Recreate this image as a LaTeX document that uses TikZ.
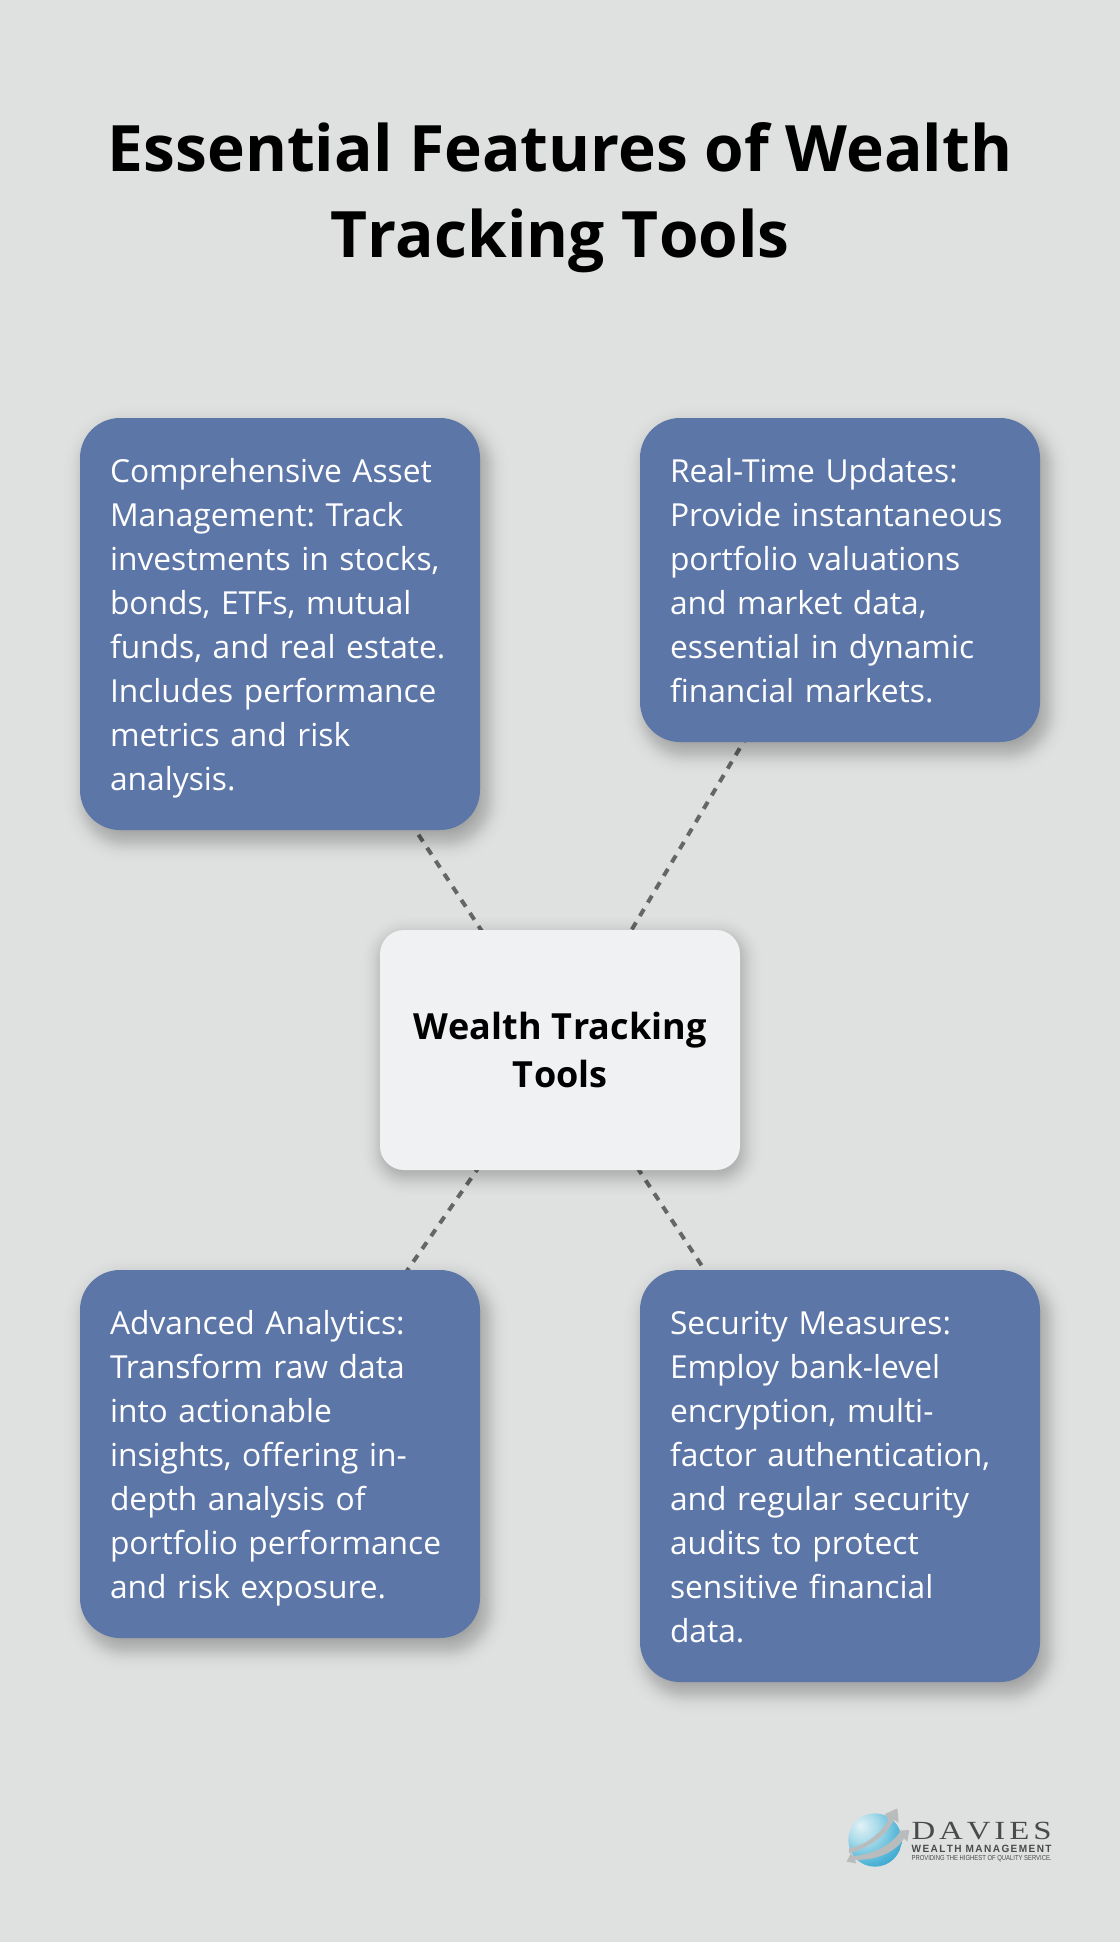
\documentclass[tikz,border=0pt]{standalone}
\usepackage{fontspec}
\usepackage{graphicx}
\setmainfont{Open Sans}
\newfontfamily\logoserif{Liberation Serif}
\newfontfamily\logosans{Liberation Sans}
\usetikzlibrary{calc,backgrounds,shadings}
\definecolor{pagebg}{HTML}{DFE1E0}
\definecolor{boxblue}{HTML}{5D76A8}
\definecolor{hubfill}{HTML}{F0F1F3}
\definecolor{linkgrey}{HTML}{666666}
\definecolor{logotext}{HTML}{4A4A4A}
\definecolor{swoosh}{HTML}{B9BCBD}
\definecolor{globeA}{HTML}{E2F2F6}
\definecolor{globeB}{HTML}{ABDCEA}
\definecolor{globeC}{HTML}{4FB4D7}
\definecolor{globeD}{HTML}{1F88B6}
\pgfdeclareradialshading{globeshade}{\pgfpoint{-14bp}{14bp}}{
  color(0bp)=(globeA);
  color(14bp)=(globeB);
  color(32bp)=(globeC);
  color(50bp)=(globeD);
  color(100bp)=(globeD)}
\newcommand{\topstrut}{\rule{0pt}{26pt}}
\newcommand{\botstrut}{\rule[-7pt]{0pt}{7pt}}
\tikzset{
  x=0.75pt,y=-0.75pt,
  titletext/.style={font=\fontsize{48}{64.5}\selectfont\bfseries,align=center,text=black,inner sep=0pt},
  infobox/.style={fill=boxblue,text=white,rounded corners=30pt,minimum width=300pt,text width=255pt,inner sep=0pt,align=left,
     font=\fontsize{23.8}{33}\selectfont\frenchspacing},
  hubbox/.style={fill=hubfill,text=black,rounded corners=18pt,minimum width=270pt,minimum height=180pt,align=center,inner sep=0pt,
     font=\fontsize{27}{36}\selectfont\bfseries},
  linkline/.style={draw=linkgrey,line width=3pt,dash pattern=on 6pt off 5.7pt},
  swooshband/.style={fill=swoosh,draw=none},
}
\newcommand{\softshadow}[5]{% node, radius(px), dx, dy, strength
  \foreach \k in {-24,-22,...,32}{
    \pgfmathsetlengthmacro{\rr}{max((#2+\k)*0.75,1)}
    \pgfmathsetmacro{\oo}{#5*exp(-(\k/14)*(\k/14))}
    \fill[black,opacity=\oo,rounded corners=\rr]
      ($(#1.south west)+(#3-\k,#4+\k)$) rectangle ($(#1.north east)+(#3+\k,#4-\k)$);
  }
}
\begin{document}
\begin{tikzpicture}
\useasboundingbox (0,0) rectangle (1120,1942);
\node[titletext] (title) at (560,198) {Essential Features of Wealth\\T\kern.6pt racking T\kern.6pt ools};
\node[infobox,minimum height=309pt] (assets) at (280,624) {\topstrut Comprehensive Asset\\Management: Track\\investments in stocks,\\bonds, ETFs, mutual\\funds, and real estate.\\Includes performance\\metrics and risk\\analysis.\botstrut};
\node[infobox,minimum height=243pt] (updates) at (840,580) {\topstrut Real-Time Updates:\\Provide instantaneous\\portfolio valuations\\and market data,\\essential in dynamic\\financial markets.\botstrut};
\node[infobox,minimum height=276pt] (analytics) at (280,1454) {\topstrut Advanced Analytics:\\Transform raw data\\into actionable\\insights, offering in-\\depth analysis of\\portfolio performance\\and risk exposure.\botstrut};
\node[infobox,minimum height=309pt] (security) at (840,1476) {\topstrut Security Measures:\\Employ bank-level\\encryption, multi-\\factor authentication,\\and regular security\\audits to protect\\sensitive financial\\data.\botstrut};
\node[hubbox] (hub) at (560,1050) {W\kern.3pt ealth T\kern.9pt racking\\T\kern.9pt ools};
\begin{pgfonlayer}{background}
  \fill[pagebg] (0,0) rectangle (1120,1942);
  \draw[linkline] (hub.center) -- (assets.center);
  \draw[linkline] (hub.center) -- (updates.center);
  \draw[linkline] (hub.center) -- (analytics.center);
  \draw[linkline] (hub.center) -- (security.center);
  \softshadow{assets}{40}{6}{10}{.025}
  \softshadow{updates}{40}{6}{10}{.025}
  \softshadow{analytics}{40}{6}{10}{.025}
  \softshadow{security}{40}{6}{10}{.025}
  \softshadow{hub}{24}{2}{6}{.022}
\end{pgfonlayer}
% logo, in units of the 3x crop at (820,1790)
\begin{scope}[shift={(820,1790)},x=0.25pt,y=-0.25pt]
  \shade[shading=globeshade] (165,150) circle[radius=80];
  \fill[swooshband] (86,176) .. controls (140,165) and (180,130) .. (205,92) -- (195,72) -- (232,55) -- (236,98) -- (222,90)
     .. controls (195,140) and (150,170) .. (88,190) -- cycle;
  \fill[swooshband] (80,215) -- (92,190) -- (100,198) .. controls (160,195) and (220,160) .. (240,125) -- (233,122) -- (268,120) -- (262,155) -- (252,145)
     .. controls (225,190) and (165,210) .. (105,210) -- (108,220) -- cycle;
  \node[inner sep=0pt,anchor=south west,text=logotext] (logoname) at (274,150) {\resizebox{105pt}{13pt}{\logoserif D\kern.12em A\kern.12em V\kern.12em I\kern.12em E\kern.12em S}};
  \node[inner sep=0pt,anchor=south west,text=logotext] (logosub) at (274,190) {\resizebox{105pt}{5.5pt}{\logosans\bfseries W\kern.14em E\kern.14em A\kern.14em L\kern.14em T\kern.14em H\kern.4em M\kern.14em A\kern.14em N\kern.14em A\kern.14em G\kern.14em E\kern.14em M\kern.14em E\kern.14em N\kern.14em T}};
  \node[inner sep=0pt,anchor=south west,text=logotext] (logotag) at (274,215) {\resizebox{105pt}{3.8pt}{\logosans PROVIDING THE HIGHEST OF QUALITY SERVICE.}};
\end{scope}
\end{tikzpicture}
\end{document}
